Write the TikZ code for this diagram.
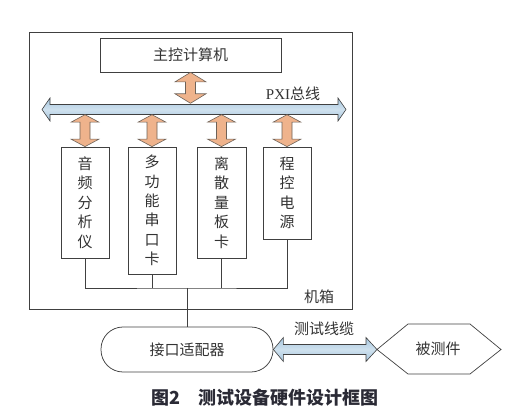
\documentclass[tikz,border=0pt]{standalone}
\usepackage{fontspec}
\setmainfont{Liberation Serif}
\newfontfamily\cjk{Noto Sans CJK SC}
\usetikzlibrary{calc}
\definecolor{linec}{HTML}{404040}
\definecolor{orfill}{HTML}{EFB38C}
\definecolor{ordraw}{HTML}{6E6258}
\definecolor{blfill}{HTML}{A6C6DE}
\definecolor{bllight}{HTML}{CFE1EE}
\definecolor{txt}{HTML}{333333}
\definecolor{captc}{HTML}{2A2A35}
\tikzset{
  lbl/.style={font=\cjk\fontsize{15}{19.4}\selectfont, text=txt, inner sep=0pt},
  boxn/.style={draw=linec, line width=0.75pt, rectangle, inner sep=0pt, align=center, font=\cjk\fontsize{15}{19.4}\selectfont, text=txt},
  wire/.style={draw=linec, line width=0.75pt},
  oarrow/.style={fill=orfill, draw=ordraw, line width=0.6pt, line join=miter},
  barrow/.style={top color=blfill, bottom color=blfill, middle color=bllight, draw=linec, line width=0.6pt, line join=miter}
}
\newcommand{\vdarr}[4]{% top, bottom, head length, head half
  \path[oarrow] let \p1=#1, \p2=#2 in
   (\x1,\y1) -- (\x1+#4,\y1-#3) -- (\x1+5pt,\y1-#3) -- (\x1+5pt,\y2+#3) -- (\x1+#4,\y2+#3)
   -- (\x1,\y2) -- (\x1-#4,\y2+#3) -- (\x1-5pt,\y2+#3) -- (\x1-5pt,\y1-#3) -- (\x1-#4,\y1-#3) -- cycle;}
\begin{document}
\begin{tikzpicture}[x=1pt,y=-1pt]
\useasboundingbox (0,0) rectangle (519,419);
% chassis
\node[draw=linec, line width=0.75pt, minimum width=323pt, minimum height=277pt, inner sep=0pt] (chassis) at (190.5,170.5) {};
\node[lbl] (chlabel) at (319,297) {机箱};
% main computer
\node[boxn, minimum width=181pt, minimum height=34pt] (main) at (190.5,55) {主控计算机};
% bus
\coordinate (busL) at (42,109.5);
\coordinate (busR) at (346,109.5);
\node[inner sep=0pt, minimum width=290pt, minimum height=10pt] (bus) at (194,109.5) {};
\path[barrow] let \p1=(busL), \p2=(busR) in
  (\x1,\y1) -- (\x1+8pt,\y1+11.5pt) -- (\x1+8pt,\y1+5pt) -- (\x2-8pt,\y1+5pt) -- (\x2-8pt,\y1+11.5pt)
  -- (\x2,\y1) -- (\x2-8pt,\y1-11.5pt) -- (\x2-8pt,\y1-5pt) -- (\x1+8pt,\y1-5pt) -- (\x1+8pt,\y1-11.5pt) -- cycle;
\node[lbl, font=\fontsize{15}{18}\selectfont] (buslabel) at (293,94) {PXI{\cjk 总线}};
% modules
\node[boxn, minimum width=48pt, minimum height=111pt] (m1) at (85,202.5) {音\\频\\分\\析\\仪};
\node[boxn, minimum width=48pt, minimum height=127pt] (m2) at (152,210.5) {多\\功\\能\\串\\口\\卡};
\node[boxn, minimum width=49pt, minimum height=111pt] (m3) at (221.5,202.5) {离\\散\\量\\板\\卡};
\node[boxn, minimum width=48pt, minimum height=92pt] (m4) at (287,193) {程\\控\\电\\源};
% orange arrows
\vdarr{(main.south)}{($(main.south |- bus.north)+(0,-1)$)}{9.5pt}{15.5pt}
\vdarr{(m1.north |- bus.south)}{(m1.north)}{7.5pt}{14pt}
\vdarr{(m2.north |- bus.south)}{(m2.north)}{7.5pt}{14pt}
\vdarr{(m3.north |- bus.south)}{(m3.north)}{7.5pt}{14pt}
\vdarr{(m4.north |- bus.south)}{(m4.north)}{7.5pt}{14pt}
% adapter
\node[draw=linec, line width=0.75pt, rounded corners=22pt, minimum width=172pt, minimum height=45pt, inner sep=0pt, font=\cjk\fontsize{15}{18}\selectfont, text=txt] (adapter) at (187,349.5) {接口适配器};
% wiring
\coordinate (junc) at (187,288);
\draw[wire] (m1.south) |- (junc) -| (m4.south);
\draw[wire] (m2.south) -- (m2.south |- junc);
\draw[wire] (m3.south) -- (m3.south |- junc);
\draw[wire] (junc) -- (adapter.north);
% DUT
\node[lbl] (dut) at (438,349) {被测件};
\coordinate (dutW) at (377,349.5);
\draw[wire, line width=0.7pt] (dutW) -- (408,324) -- (470,324) -- (501,349.5) -- (470,374) -- (408,374) -- cycle;
% cable arrow
\path[barrow] let \p1=(adapter.east), \p2=(dutW) in
  (\x1,\y1) -- (\x1+10pt,\y1+12pt) -- (\x1+10pt,\y1+5pt) -- (\x2-11pt,\y1+5pt) -- (\x2-11pt,\y1+12pt)
  -- (\x2,\y1) -- (\x2-11pt,\y1-12pt) -- (\x2-11pt,\y1-5pt) -- (\x1+10pt,\y1-5pt) -- (\x1+10pt,\y1-12pt) -- cycle;
\node[lbl] (cablelabel) at (324,329) {测试线缆};
% caption
\node[inner sep=0pt, font=\cjk\bfseries\fontsize{18}{21}\selectfont, text=captc] (caption) at (265,398) {图2\hspace{1em}测试设备硬件设计框图};
\end{tikzpicture}
\end{document}
